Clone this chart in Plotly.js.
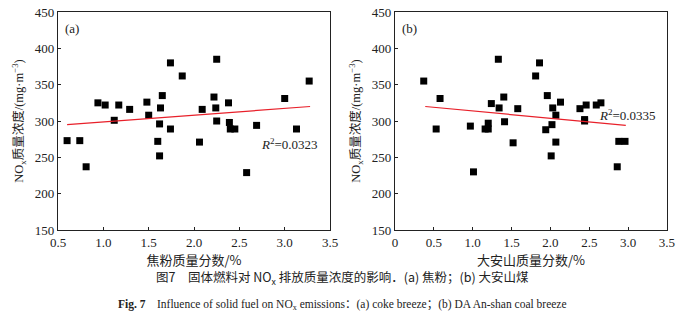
<!DOCTYPE html>
<html><head><meta charset="utf-8">
<script src="https://cdn.plot.ly/plotly-3.0.1.min.js"></script>
<style>html,body{margin:0;padding:0;background:#fff}#c{width:685px;height:325px}</style>
</head><body><div id="c"></div>
<script>
// (a) coke breeze
const cokeX = [0.60,0.74,0.81,0.94,1.02,1.12,1.17,1.29,1.48,1.50,1.60,1.62,1.62,1.63,1.65,1.74,1.74,1.87,2.06,2.09,2.22,2.24,2.25,2.25,2.38,2.39,2.40,2.45,2.58,2.69,3.00,3.13,3.27];
const cokeY = [273,273,237,325,322,301,322,316,326,308,272,252,296,318,335,380,289,362,271,316,333,318,385,300,325,298,289,289,229,294,331,289,355];
const cokeTrendX = [0.60,3.28];
const cokeTrendY = [295,320];
// (b) Da'anshan coal
const coalX = [0.37,0.53,0.58,0.97,1.01,1.16,1.20,1.20,1.24,1.33,1.34,1.40,1.41,1.52,1.58,1.81,1.86,1.94,1.96,2.01,2.02,2.03,2.07,2.07,2.13,2.38,2.44,2.44,2.46,2.59,2.65,2.86,2.88,2.96];
const coalY = [355,289,331,293,230,289,289,297,324,385,318,333,299,270,317,362,380,288,335,252,295,318,308,271,326,317,302,300,322,322,325,237,272,272];
const coalTrendX = [0.39,2.97];
const coalTrendY = [320,294];
const r2Labels = ['<i>R</i><sup>2</sup>=0.0323','<i>R</i><sup>2</sup>=0.0335'];
const xTitles = ['焦粉质量分数/%','大安山质量分数/%'];
const yTitle = 'NO<sub>x</sub>质量浓度/(mg·m<sup>−3</sup>)';
const xTicksA = [0.5,1.0,1.5,2.0,2.5,3.0,3.5];
const xTicksB = [0,0.5,1.0,1.5,2.0,2.5,3.0,3.5];
const yTicks = [150,200,250,300,350,400,450];

const F = 'Liberation Serif, Times New Roman, Noto Sans CJK SC, serif';
const mk = {symbol:'square', size:7, color:'#000'};
const traces = [
  {x:cokeX, y:cokeY, type:'scatter', mode:'markers', marker:mk, xaxis:'x', yaxis:'y', hoverinfo:'none'},
  {x:cokeTrendX, y:cokeTrendY, type:'scatter', mode:'lines', line:{color:'#e8202a', width:1.2}, xaxis:'x', yaxis:'y'},
  {x:coalX, y:coalY, type:'scatter', mode:'markers', marker:mk, xaxis:'x2', yaxis:'y2', hoverinfo:'none'},
  {x:coalTrendX, y:coalTrendY, type:'scatter', mode:'lines', line:{color:'#e8202a', width:1.2}, xaxis:'x2', yaxis:'y2'}
];
function xa(dom, range, ticks, title){
  return {domain:dom, range:range, tickvals:ticks, ticktext:ticks.map(v=>v===0?'0':v.toFixed(1)),
    showline:true, mirror:true, linecolor:'#222', linewidth:1.2, ticks:'inside', ticklen:3, tickcolor:'#222',
    showgrid:false, zeroline:false, tickfont:{family:F,size:13,color:'#222'},
    title:{text:title, font:{family:'Noto Sans CJK SC, sans-serif', size:13, color:'#222'}, standoff:0}};
}
function ya(dom, anchor){
  return {domain:dom, range:[150,450], tickvals:yTicks, anchor:anchor,
    showline:true, mirror:true, linecolor:'#222', linewidth:1.2, ticks:'inside', ticklen:3, tickcolor:'#222',
    showgrid:false, zeroline:false, tickfont:{family:F,size:13,color:'#222'},
    title:{text:yTitle, font:{family:F, size:12.5, color:'#222'}, standoff:8}};
}
const yd = [0.2923,0.963];
const layout = {
  width:685, height:325, margin:{l:0,r:0,t:0,b:0}, showlegend:false,
  paper_bgcolor:'#fff', plot_bgcolor:'#fff',
  xaxis: Object.assign(xa([0.0847,0.4818],[0.5,3.5],xTicksA,xTitles[0]),{anchor:'y'}),
  yaxis: ya(yd,'x'),
  xaxis2: Object.assign(xa([0.5766,0.9737],[0,3.5],xTicksB,xTitles[1]),{anchor:'y2'}),
  yaxis2: ya(yd,'x2'),
  annotations:[
    {xref:'x domain', yref:'y domain', x:0.02, y:0.97, xanchor:'left', yanchor:'top', text:'(a)', showarrow:false, font:{family:F,size:13,color:'#222'}},
    {xref:'x2 domain', yref:'y2 domain', x:0.02, y:0.97, xanchor:'left', yanchor:'top', text:'(b)', showarrow:false, font:{family:F,size:13,color:'#222'}},
    {xref:'x', yref:'y', x:3.39, y:268, xanchor:'right', text:r2Labels[0], showarrow:false, font:{family:F,size:13,color:'#222'}},
    {xref:'x2', yref:'y2', x:3.38, y:308, xanchor:'right', text:r2Labels[1], showarrow:false, font:{family:F,size:13,color:'#222'}},
    {xref:'paper', yref:'paper', x:0.5, y:1-277/325, xanchor:'center', yanchor:'middle', showarrow:false,
      text:'图7　固体燃料对 NO<sub>x</sub> 排放质量浓度的影响．(a) 焦粉；(b) 大安山煤', font:{family:'Noto Sans CJK SC, sans-serif', size:12.5, color:'#222'}},
    {xref:'paper', yref:'paper', x:0.5, y:1-305/325, xanchor:'center', yanchor:'middle', showarrow:false,
      text:'<b>Fig. 7</b>　Influence of solid fuel on NO<sub>x</sub> emissions：(a) coke breeze；(b) DA An-shan coal breeze', font:{family:F, size:11.5, color:'#222'}}
  ]
};
Plotly.newPlot('c', traces, layout, {staticPlot:true, displayModeBar:false});
</script></body></html>
